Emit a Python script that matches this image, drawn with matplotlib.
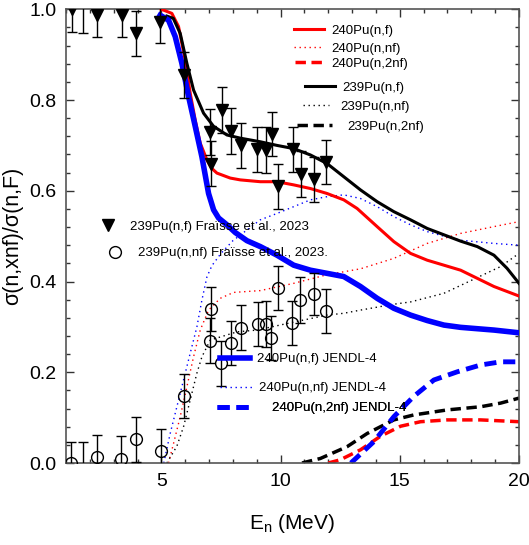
import matplotlib
matplotlib.use("Agg")
import matplotlib.pyplot as plt
from matplotlib.lines import Line2D
from matplotlib.ticker import MultipleLocator

plt.rcParams['font.family'] = ['Liberation Sans', 'DejaVu Sans']
plt.rcParams['mathtext.default'] = 'regular'

# ---------------- data ----------------
# 240Pu(n,f)
e_240f = [5.0, 5.44, 5.72, 6.0, 6.21, 6.42, 6.63, 6.91, 7.1, 7.33, 7.89, 8.31, 9.15, 9.85, 10.55,
          11.25, 11.95, 12.65, 13.21, 14.05, 14.75, 15.45, 16.15, 16.85, 17.55, 18.25, 18.95, 20.0]
v_240f = [1.0, 0.991, 0.962, 0.888, 0.815, 0.756, 0.705, 0.668, 0.650, 0.639, 0.628, 0.624, 0.62, 0.62, 0.613,
          0.605, 0.594, 0.58, 0.561, 0.521, 0.488, 0.462, 0.447, 0.436, 0.425, 0.407, 0.389, 0.368]
# 240Pu(n,nf)
e_240nf = [5.3, 5.51, 5.79, 6.07, 6.35, 6.63, 6.98, 7.47, 8.03, 9.15, 10.55, 11.95, 13.35, 14.75,
           16.15, 17.55, 18.95, 20.0]
v_240nf = [0.0, 0.043, 0.102, 0.168, 0.234, 0.293, 0.337, 0.363, 0.376, 0.38, 0.396, 0.415, 0.428, 0.451,
           0.484, 0.506, 0.521, 0.532]
# 240Pu(n,2nf)
e_240_2nf = [12.0, 12.5, 13.35, 14.19, 15.03, 15.87, 16.99, 18.39, 20.0]
v_240_2nf = [0.0, 0.007, 0.029, 0.059, 0.081, 0.091, 0.095, 0.095, 0.091]
# 239Pu(n,f)
e_239f = [5.23, 5.5, 5.79, 6.07, 6.35, 6.77, 7.19, 7.75, 8.31, 9.15, 9.85, 10.55, 11.25, 11.95, 12.65,
          13.35, 14.05, 14.75, 15.45, 16.15, 16.85, 17.55, 18.25, 18.95, 19.5, 20.0]
v_239f = [0.985, 0.98, 0.947, 0.881, 0.822, 0.771, 0.742, 0.723, 0.716, 0.708, 0.70, 0.693, 0.679, 0.66,
          0.631, 0.602, 0.576, 0.554, 0.536, 0.517, 0.503, 0.489, 0.477, 0.458, 0.429, 0.396]
# 239Pu(n,nf)
e_239nf = [5.23, 5.65, 5.93, 6.21, 6.49, 6.7, 7.05, 8.17, 9.01, 10.5, 11.95, 12.65, 13.35, 14.75,
           15.45, 16.85, 18.1, 19.23, 20.0]
v_239nf = [0.0, 0.037, 0.08, 0.139, 0.198, 0.234, 0.271, 0.289, 0.293, 0.31, 0.326, 0.33, 0.337, 0.35,
           0.355, 0.374, 0.405, 0.433, 0.462]
# 239Pu(n,2nf)
e_239_2nf = [10.9, 11.67, 12.79, 13.63, 14.75, 15.59, 16.99, 18.39, 19.23, 20.0]
v_239_2nf = [0.0, 0.01, 0.036, 0.065, 0.095, 0.106, 0.117, 0.124, 0.132, 0.143]
# 240Pu(n,f) JENDL-4
e_j_f = [4.95, 5.3, 5.58, 5.86, 6.14, 6.42, 6.7, 6.98, 7.19, 7.4, 7.75, 8.1, 8.59, 9.15, 9.85, 10.55,
         11.25, 11.95, 12.65, 13.35, 14.05, 14.75, 15.45, 16.15, 16.85, 17.55, 18.95, 20.0]
v_j_f = [0.987, 0.976, 0.94, 0.881, 0.808, 0.742, 0.675, 0.594, 0.558, 0.540, 0.525, 0.508, 0.49, 0.477,
         0.458, 0.436, 0.425, 0.418, 0.411, 0.389, 0.363, 0.341, 0.326, 0.314, 0.304, 0.299, 0.293, 0.287]
# 240Pu(n,nf) JENDL-4
e_j_nf = [5.1, 5.37, 5.65, 5.93, 6.21, 6.49, 6.7, 6.91, 7.12, 7.5, 8.0, 8.5, 9.15, 9.85, 10.55, 11.25,
          11.95, 12.65, 13.35, 14.05, 14.75, 15.45, 16.15, 16.85, 17.55, 18.95, 20.0]
v_j_nf = [0.0, 0.065, 0.124, 0.183, 0.242, 0.30, 0.359, 0.41, 0.435, 0.462, 0.49, 0.51, 0.536, 0.55,
          0.565, 0.58, 0.587, 0.591, 0.583, 0.565, 0.543, 0.525, 0.51, 0.50, 0.491, 0.484, 0.48]
# 240Pu(n,2nf) JENDL-4
e_j_2nf = [12.95, 13.91, 14.75, 15.59, 16.43, 17.41, 18.39, 19.23, 20.0]
v_j_2nf = [0.0, 0.047, 0.102, 0.147, 0.183, 0.201, 0.216, 0.223, 0.223]

# Fraisse et al. 2023, 239Pu(n,f)
fr_f_e = [1.27, 1.73, 2.32, 3.34, 3.94, 4.95, 5.93, 7.03, 7.07, 7.53, 7.92, 8.33, 9.01, 9.40, 9.65,
          9.88, 10.52, 10.87, 11.39, 11.92]
fr_f_v = [1.0, 1.03, 0.987, 0.987, 0.947, 0.973, 0.855, 0.73, 0.66, 0.778, 0.732, 0.70, 0.691, 0.690,
          0.725, 0.61, 0.691, 0.637, 0.625, 0.664]
fr_f_err = [0.05, 0.083, 0.049, 0.047, 0.05, 0.048, 0.05, 0.051, 0.05, 0.051, 0.05, 0.05, 0.05, 0.05,
            0.049, 0.05, 0.05, 0.05, 0.05, 0.049]
# Fraisse et al. 2023, 239Pu(n,nf)
fr_nf_e = [1.21, 1.70, 2.29, 3.31, 3.94, 4.98, 5.93, 7.08, 7.04, 7.51, 7.93, 8.35, 9.04, 9.40, 9.61,
           9.88, 10.48, 10.83, 11.39, 11.91]
fr_nf_v = [0.0, -0.03, 0.0125, 0.0095, 0.052, 0.026, 0.148, 0.339, 0.27, 0.22, 0.265, 0.298, 0.306,
           0.306, 0.275, 0.386, 0.308, 0.359, 0.372, 0.335]
fr_nf_err = [0.047, 0.076, 0.049, 0.049, 0.049, 0.049, 0.048, 0.048, 0.049, 0.05, 0.049, 0.05, 0.048,
             0.05, 0.048, 0.049, 0.048, 0.05, 0.046, 0.048]

x_ticks = [5, 10, 15, 20]
y_ticks = [0.0, 0.2, 0.4, 0.6, 0.8, 1.0]

# ---------------- figure ----------------
W, H = 529, 545
fig = plt.figure(figsize=(W / 100, H / 100), dpi=100)
ax = fig.add_axes([66 / W, 1 - 463 / H, 453 / W, 453.7 / H])

RED, BLK, BLU = '#ff0000', '#000000', '#0000ff'
dot = (1, 2.6)

ax.plot(e_240f, v_240f, color=RED, lw=2.2, zorder=3)
ax.plot(e_240nf, v_240nf, color=RED, lw=1.0, dashes=dot, zorder=2)
ax.plot(e_240_2nf, v_240_2nf, color=RED, lw=2.5, dashes=(3, 1.6), zorder=2)
ax.plot(e_239f, v_239f, color=BLK, lw=2.2, zorder=3)
ax.plot(e_239nf, v_239nf, color=BLK, lw=1.0, dashes=dot, zorder=2)
ax.plot(e_239_2nf, v_239_2nf, color=BLK, lw=2.5, dashes=(3, 1.6), zorder=2)
ax.plot(e_j_f, v_j_f, color=BLU, lw=4.0, zorder=3)
ax.plot(e_j_nf, v_j_nf, color=BLU, lw=1.0, dashes=dot, zorder=2)
ax.plot(e_j_2nf, v_j_2nf, color=BLU, lw=3.5, dashes=(2.5, 1.4), zorder=2)

ax.errorbar(fr_f_e, fr_f_v, yerr=fr_f_err, fmt='v', color='black', ms=8.5, capsize=3.8,
            elinewidth=1.0, capthick=1.0, zorder=4)
ax.errorbar(fr_nf_e, fr_nf_v, yerr=fr_nf_err, fmt='o', mfc='none', mec='black', color='black',
            ms=8.5, mew=1.0, capsize=3.8, elinewidth=1.0, capthick=1.0, zorder=4)

ax.set_xlim(1, 20)
ax.set_ylim(0, 1.0)
ax.set_xticks(x_ticks)
ax.set_yticks(y_ticks)
ax.set_yticklabels([f"{v:.1f}" for v in y_ticks])
ax.xaxis.set_minor_locator(MultipleLocator(1))
ax.yaxis.set_minor_locator(MultipleLocator(0.04))
ax.tick_params(which='both', direction='in', top=True, right=True, color='#333333')
ax.tick_params(which='major', length=6, width=1.0, labelsize=14, pad=7)
ax.tick_params(which='minor', length=3, width=1.0)
for s in ax.spines.values():
    s.set_color('#555555')
    s.set_linewidth(1.2)

ax.set_xlabel('E$_n$ (MeV)', fontsize=15, labelpad=16)
ax.set_ylabel('σ(n,xnf)/σ(n,F)', fontsize=15.5, labelpad=4)

# ---------------- legend entries ----------------
FS = 9.5
em = FS * 100 / 72.0


def entry(handle, label, x0, x1, y, xt):
    lg = ax.legend(handles=[handle], labels=[label], loc='center left',
                   bbox_to_anchor=(x0 / W, 1 - y / H), bbox_transform=fig.transFigure,
                   frameon=False, fontsize=FS, borderpad=0, borderaxespad=0,
                   handlelength=(x1 - x0) / em, handletextpad=(xt - x1) / em)
    ax.add_artist(lg)


entry(Line2D([], [], color=RED, lw=2.2), '240Pu(n,f)', 294, 324, 31, 331.7)
entry(Line2D([], [], color=RED, lw=1.0, dashes=dot), '240Pu(n,nf)', 294, 324, 49, 331.7)
entry(Line2D([], [], color=RED, lw=2.5, dashes=(3, 1.6)), '240Pu(n,2nf)', 295, 325, 64, 331.7)
entry(Line2D([], [], color=BLK, lw=2.2), '239Pu(n,f)', 305, 335, 87.7, 342.7)
entry(Line2D([], [], color=BLK, lw=1.0, dashes=dot), '239Pu(n,nf)', 302.7, 329, 106.7, 340)
entry(Line2D([], [], color=BLK, lw=2.5, dashes=(3, 1.6)), '239Pu(n,2nf)', 296.7, 331.7, 126.7, 347.3)
entry(Line2D([], [], color='black', marker='v', ls='none', ms=8.5),
      '239Pu(n,f) Fraïsse et al., 2023', 101.2, 114.2, 226.7, 130)
entry(Line2D([], [], color='black', marker='o', mfc='none', ls='none', ms=8.5, mew=1.0),
      '239Pu(n,nf) Fraïsse et al., 2023.', 108.5, 121.5, 253.3, 138.3)
entry(Line2D([], [], color=BLU, lw=4.0), '240Pu(n,f) JENDL-4', 220, 250, 359.3, 257.3)
entry(Line2D([], [], color=BLU, lw=1.0, dashes=dot), '240Pu(n,nf) JENDL-4', 220, 251.7, 388.3, 259)
entry(Line2D([], [], color=BLU, lw=3.5, dashes=(2.5, 1.4)), '240Pu(n,2nf) JENDL-4', 216.7, 253.3, 408.3, 271.7)

fig.savefig('out.png', dpi=100)
